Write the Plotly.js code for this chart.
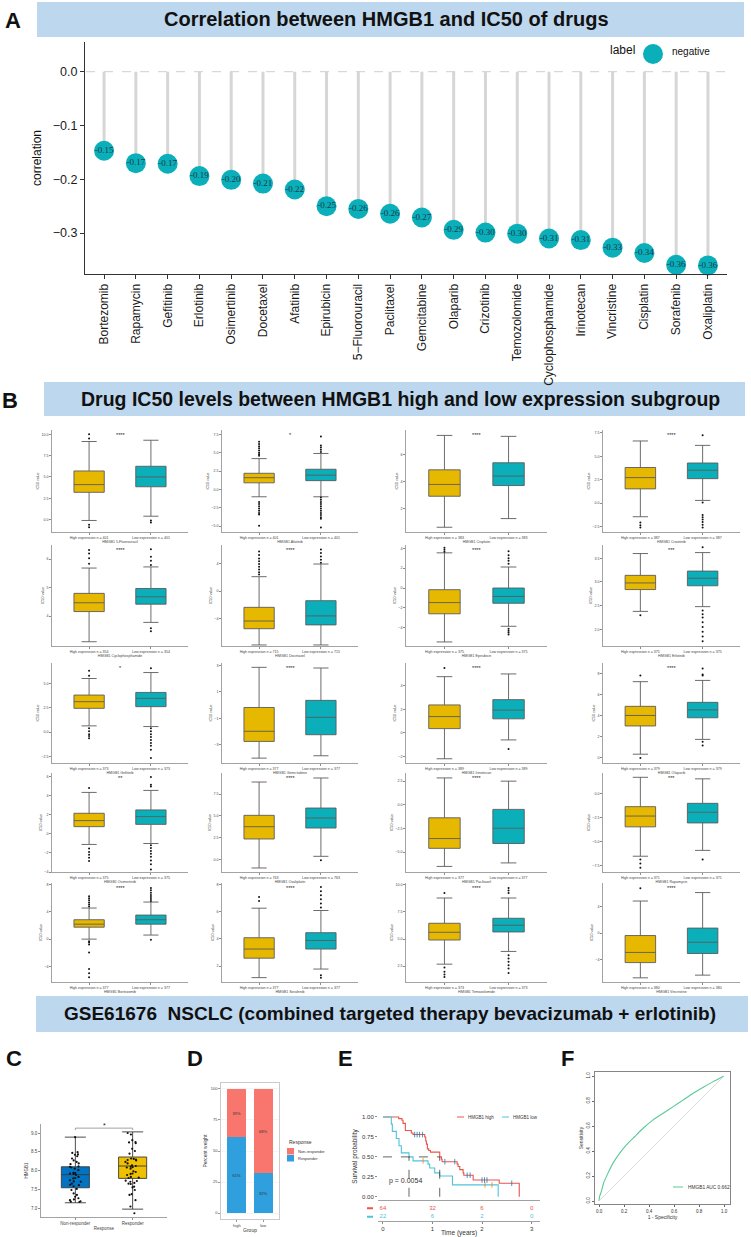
<!DOCTYPE html>
<html>
<head>
<meta charset="utf-8">
<script src="https://cdn.plot.ly/plotly-3.0.1.min.js"></script>
<style>html,body{margin:0;padding:0;background:#fff}#chart{width:751px;height:1237px}</style>
</head>
<body>
<div id="chart"></div>
<script>
// ================= DATA =================
// Panel A : correlation between HMGB1 and drug IC50
const drugs = ['Bortezomib','Rapamycin','Gefitinib','Erlotinib','Osimertinib','Docetaxel','Afatinib','Epirubicin','5\u2212Fluorouracil','Paclitaxel','Gemcitabine','Olaparib','Crizotinib','Temozolomide','Cyclophosphamide','Irinotecan','Vincristine','Cisplatin','Sorafenib','Oxaliplatin'];
const correlation = [-0.147,-0.170,-0.171,-0.194,-0.201,-0.208,-0.219,-0.250,-0.255,-0.264,-0.271,-0.294,-0.299,-0.301,-0.310,-0.313,-0.327,-0.337,-0.359,-0.360];
const corrLegendName = 'negative';

// Panel B : IC50 box plots (high vs low HMGB1)
const boxDrugs = ['5-Fluorouracil','Afatinib','Cisplatin','Crizotinib','Cyclophosphamide','Docetaxel','Epirubicin','Erlotinib','Gefitinib','Gemcitabine','Irinotecan','Olaparib','Osimertinib','Oxaliplatin','Paclitaxel','Rapamycin','Bortezomib','Sorafenib','Temozolomide','Vincristine'];
const sigLabels = ['****','*','****','****','****','****','****','***','*','****','****','****','**','****','****','***','****','****','****','****'];
const nHigh = [401,401,383,387,354,715,375,375,373,377,389,379,375,763,377,371,377,377,373,380];
const nLow  = [401,401,383,387,354,715,375,375,373,377,389,379,375,763,377,371,377,377,373,380];
const highLower  = [-0.1,-1.0,0.62,-1.45, 3.1,-7.8,-5.44,2.38, 0.65,-4.03,-2.2,0.34, -1.12,-0.94,-6.5,-6.55, 0.0,1.15,2.69,-6.77];
const highQ1     = [3.2,0.9,2.91,1.52, 4.16,-5.45,-2.6,2.84, 2.45,-2.76,0.36,3.03, 0.74,2.37,-4.59,-3.48, 1.76,2.58,4.91,-4.46];
const highMedian = [4.1,1.6,3.78,2.72, 4.47,-4.34,-1.47,2.98, 3.13,-1.99,1.38,4.03, 1.37,3.77,-3.56,-2.35, 2.2,3.25,5.62,-2.92];
const highQ3     = [5.7,2.2,4.86,3.8, 4.8,-2.36,-0.17,3.14, 3.81,-0.18,2.37,4.9, 2.14,5.07,-1.37,-1.37, 2.85,4.08,6.45,-0.36];
const highUpper  = [9.15,4.2,7.4,6.63, 5.69,2.07,3.55,3.6, 5.51,2.87,4.77,7.25, 4.32,8.87,2.84,1.7, 4.57,6.25,8.77,4.87];
const lowLower   = [0.4,-1.0,1.26,0.29, 3.78,-7.8,-3.86,2.48, 0.58,-3.85,-0.6,1.75, -1.02,0.39,-6.13,-5.94, 0.6,1.78,3.86,-6.36];
const lowQ1      = [3.85,1.2,3.7,2.61, 4.42,-4.9,-1.54,2.92, 2.62,-2.25,1.19,3.81, 0.98,3.62,-4.08,-3.07, 2.2,3.25,5.65,-3.08];
const lowMedian  = [5.0,1.95,4.4,3.51, 4.68,-3.6,-0.85,3.08, 3.47,-0.93,1.93,4.56, 1.79,4.76,-2.47,-1.95, 2.85,3.88,6.27,-1.38];
const lowQ3      = [6.25,2.75,5.38,4.28, 4.97,-1.4,0.0,3.23, 4.08,0.36,2.82,5.28, 2.49,5.9,-0.48,-1.02, 3.54,4.45,6.91,0.77];
const lowUpper   = [9.3,4.9,7.33,6.16, 5.73,3.9,2.12,3.62, 6.12,2.82,5.0,7.37, 4.53,9.33,2.5,1.54, 5.45,6.08,8.77,6.15];
const highOutliers = [
 [10.0,9.5,-0.6,-0.9],
 [6.5,6.2,5.9,5.6,5.3,5.0,4.8,4.6,-1.7,-2.0,-2.3,-2.6,-2.9,-3.2,-3.4,-4.95],
 [],
 [-2.06,-2.35,-2.6],
 [6.32,6.2,6.03,5.84],
 [5.7,5.2,4.7,4.3,3.9,3.5,3.1,2.7,2.4],
 [4.07,3.85,3.66],
 [2.3],
 [6.3,5.8,0.41,0.1,-0.2,-0.4,-0.61],
 [],
 [5.5],
 [7.84,-0.03],
 [4.77,-1.54,-1.9,-2.2,-2.5,-2.84],
 [],
 [],
 [-6.9,-7.3,-7.75],
 [6.3,6.0,5.7,5.4,5.1,4.8,-0.3,-0.5,-0.8,-1.95,-4.4,-5.0,-5.6],
 [7.08,6.78],
 [9.23,2.38,2.0,1.75,1.5],
 [6.82]
];
const lowOutliers = [
 [-0.1,-0.35],
 [7.2,6.0,5.7,5.4,5.1,-1.1,-1.4,-1.7,-2.0,-2.3,-2.6,-2.9,-3.2,-3.5,-3.8,-4.0,-5.2],
 [],
 [7.25,0.07,-1.27,-1.5,-1.75,-2.0,-2.3,-2.6],
 [6.35,6.09,5.95,5.8,3.57,3.47],
 [6.0,5.5,5.0,4.5,4.1],
 [3.7,3.3,3.0,2.75,2.46,-4.1,-4.3,-4.5,-4.7],
 [3.73,2.4,2.32,2.25,2.15,2.05,1.95,1.85,1.75],
 [6.56,0.41,0.1,-0.2,-0.5,-0.8,-1.1,-1.4,-1.8,-2.65],
 [],
 [-1.37],
 [8.5,7.94,7.84,1.53,1.16],
 [5.93,5.12,4.95,-1.2,-1.5,-1.8,-2.1,-2.4,-2.8,-3.2,-3.75],
 [-0.07],
 [],
 [-6.9],
 [7.5,7.2,6.8,6.5,6.2,5.9,5.6,-0.1],
 [7.8,7.5,7.2,6.9,6.6,6.3,1.33,1.15],
 [9.7,9.45,9.23,3.5,3.2,2.9,2.6,2.3,1.88],
 []
];
const yTicks = [[0,2.5,5,7.5,10],[-5,-2.5,0,2.5,5,7.5],[2,4,6],[-2.5,0,2.5,5,7.5],
 [4,5,6],[-4,0,4],[-4,-2,0,2,4],[2,2.5,3,3.5],
 [-2.5,0,2.5,5],[-3,-1,1,3],[-2,0,2,4],[0,2,4,6,8],
 [-4,-2,0,2,4,6],[0,2.5,5,7.5],[-5,-2.5,0,2.5],[-7.5,-5,-2.5,0],
 [-4,0,4,8],[2,4,6,8],[2.5,5,7.5,10],[-4,0,4]];
const yRanges = [[-1.45,10.5],[-5.8,8.1],[0.27,7.8],[-3.08,7.8],
 [2.95,6.5],[-7.95,6.65],[-5.85,4.34],[1.65,3.78],
 [-3.16,7.1],[-4.4,3.2],[-2.56,5.93],[-0.5,9.03],
 [-4.0,6.35],[-1.4,9.9],[-7.09,3.36],[-8.2,2.15],
 [-6.3,8.25],[0.83,8.1],[1.05,10.15],[-7.4,7.6]];

// Panel C : HMGB1 expression by response
const responseGroups = ['Non-responder','Responder'];
const nonResponderExpr = [8.89,8.43,8.23,8.27,8.38,8.49,8.47,8.42,8.32,8.17,8.10,8.11,8.05,8.01,8.08,7.92,7.93,7.88,7.91,7.94,7.83,7.79,7.80,7.74,7.70,7.65,7.71,7.61,7.62,7.58,7.51,7.48,7.39,7.35,7.30,7.26,7.23,7.21,7.17,7.18,7.16,8.19];
const responderExpr = [8.76,8.73,8.96,8.81,8.75,8.52,8.45,8.27,8.31,8.29,8.32,8.10,8.19,8.23,8.28,8.14,8.08,8.12,8.05,7.98,7.96,7.92,8.09,7.88,7.83,7.91,7.81,7.80,7.73,7.72,7.70,7.67,7.57,7.55,7.65,7.37,7.64,7.48,7.35,7.04,7.21,6.86,9.00,8.58];
const cBoxStats = { // [lower, q1, median, q3, upper]
  'Non-responder':[7.14,7.54,7.89,8.10,8.89],
  'Responder':[6.97,7.79,8.12,8.36,9.03]
};
const cSignif = '*';

// Panel D : response proportion by HMGB1 group
const dGroups = ['high','low'];
const pctResponder = [61,32];
const pctNonResponder = [39,68];

// Panel E : Kaplan-Meier
const kmHighT = [0,0.317,0.384,0.405,0.452,0.573,0.607,0.843,0.863,0.877,0.897,0.924,0.958,1.146,1.18,1.194,1.497,1.517,1.551,1.618,1.632,1.821,2.347,2.751];
const kmHighS = [1.0,0.98,0.96,0.92,0.83,0.80,0.78,0.75,0.70,0.66,0.60,0.58,0.56,0.50,0.47,0.44,0.41,0.38,0.34,0.30,0.27,0.21,0.17,0.0];
const kmLowT = [0,0.169,0.189,0.27,0.324,0.371,0.526,0.607,0.91,0.944,1.045,1.146,1.403,2.326];
const kmLowS = [1.0,0.91,0.82,0.73,0.64,0.55,0.50,0.45,0.41,0.36,0.30,0.26,0.15,0.0];
const censorHighT = [0.64,0.69,0.74,0.80,1.25,1.45,1.70,1.76,2.0,2.05,2.1,2.6];
const censorLowT = [0.81,2.06,2.2];
const riskTimes = [0,1,2,3];
const riskHigh = [64,32,6,0];
const riskLow = [22,6,2,0];
const pValue = '0.0054';
const kmNames = ['HMGB1 high','HMGB1 low'];

// Panel F : ROC
const rocFPR = [0,0.005,0.019,0.037,0.072,0.112,0.166,0.219,0.286,0.353,0.433,0.513,0.594,0.674,0.754,0.834,0.914,1];
const rocTPR = [0,0.037,0.077,0.144,0.223,0.303,0.383,0.449,0.516,0.582,0.649,0.702,0.755,0.809,0.862,0.910,0.955,1];
const aucValue = 0.662;

// ================= LAYOUT HELPERS =================
const W = 751, H = 1237;
const fx = p => p / W;
const fy = p => 1 - p / H;
const SANS = 'Liberation Sans, Arial, sans-serif';
const NARROW = 'Liberation Sans Narrow, Arial Narrow, Liberation Sans, sans-serif';
const SERIF = 'Liberation Serif, Times New Roman, serif';
const TEAL = '#0AAFB9', GOLD = '#E7B800';

const traces = [];
const shapes = [];
const annotations = [];
const layout = {
  width: W, height: H, margin: {l:0, r:0, t:0, b:0},
  paper_bgcolor: '#ffffff', plot_bgcolor: 'rgba(0,0,0,0)',
  showlegend: false, boxmode: 'overlay', boxgap: 0.3,
  barmode: 'stack', bargap: 0.28,
  font: {family: SANS, color: '#222'},
  shapes: shapes, annotations: annotations
};
function txt(x, y, text, size, opts) {
  annotations.push(Object.assign({xref:'paper', yref:'paper', x:fx(x), y:fy(y), text:text, showarrow:false,
    font:{family:SANS, size:size, color:'#111'}, xanchor:'center', yanchor:'middle'}, opts || {}));
}
function header(x0, x1, y0, y1, title, size, cx) {
  shapes.push({type:'rect', xref:'paper', yref:'paper', x0:fx(x0), x1:fx(x1), y0:fy(y1), y1:fy(y0),
    fillcolor:'#BDD7EE', line:{width:0}, layer:'below'});
  txt(cx, (y0 + y1) / 2, '<b>' + title + '</b>', size, {font:{family:NARROW, size:size, color:'#111'}});
}

// ================= HEADERS & PANEL LETTERS =================
header(37, 744, 2, 37, 'Correlation between HMGB1 and IC50 of drugs', 20, 387);
header(44, 745, 382, 416, 'Drug IC50 levels between HMGB1 high and low expression subgroup', 19.5, 400);
header(36, 748, 996, 1032, 'GSE61676  NSCLC (combined targeted therapy bevacizumab + erlotinib)', 19, 390);
txt(13, 20, '<b>A</b>', 22);
txt(10, 401, '<b>B</b>', 22);
txt(14, 1058, '<b>C</b>', 22);
txt(195, 1058, '<b>D</b>', 22);
txt(345, 1058, '<b>E</b>', 22);
txt(567, 1058, '<b>F</b>', 22);

// ================= PANEL A =================
const aTop = 42, aBot = 274, aZeroPx = 71.7, aPxPerUnit = 538;
layout.xaxis = {domain:[fx(85), fx(727)], anchor:'y', type:'category', range:[-0.6, 19.6],
  showline:true, linecolor:'#333', linewidth:1, ticks:'outside', ticklen:4, tickcolor:'#333',
  tickangle:-90, tickfont:{size:12, color:'#1a1a1a'}, showgrid:false, zeroline:false};
layout.yaxis = {domain:[fy(aBot), fy(aTop)], anchor:'x',
  range:[-(aBot - aZeroPx) / aPxPerUnit, (aZeroPx - aTop) / aPxPerUnit],
  tickvals:[0,-0.1,-0.2,-0.3], tickformat:'.1f',
  showline:true, linecolor:'#333', linewidth:1, ticks:'outside', ticklen:4, tickcolor:'#333',
  tickfont:{size:12.5, color:'#1a1a1a'}, showgrid:false, zeroline:false,
  title:{text:'correlation', font:{size:12, color:'#111'}, standoff:8}};
shapes.push({type:'line', xref:'paper', yref:'y', x0:fx(86), x1:fx(727), y0:0, y1:0,
  line:{color:'#cfcfcf', width:1, dash:'dash'}, layer:'below'});
const segX = [], segY = [];
drugs.forEach((d, i) => { segX.push(d, d, null); segY.push(0, correlation[i], null); });
traces.push({type:'scatter', mode:'lines', x:segX, y:segY, xaxis:'x', yaxis:'y',
  line:{color:'#D6D6D6', width:3}, hoverinfo:'skip'});
traces.push({type:'scatter', mode:'markers+text', x:drugs, y:correlation, xaxis:'x', yaxis:'y',
  name:corrLegendName, marker:{size:20, color:TEAL},
  text:correlation.map(v => v.toFixed(2)), textposition:'middle center',
  textfont:{family:SERIF, size:9, color:'#16394a'}, cliponaxis:false});
// legend of panel A
txt(637, 50, 'label', 12, {xanchor:'right'});
shapes.push({type:'circle', xref:'paper', yref:'paper', x0:fx(643), x1:fx(663), y0:fy(64), y1:fy(44),
  fillcolor:TEAL, line:{width:0}});
txt(670, 51, corrLegendName, 10, {xanchor:'left'});

// ================= PANEL B =================
const colPx = [[52,188],[222,358],[406,547],[603,740]];
const rowPx = [[430,532],[545,646],[663,763],[773,872],[883,982]];
const AX_GRAY = '#8c8c8c';
for (let i = 0; i < 20; i++) {
  const k = i + 2, r = Math.floor(i / 4), c = i % 4;
  const xa = 'x' + k, ya = 'y' + k;
  const catH = 'High expression n = ' + nHigh[i];
  const catL = 'Low expression n = ' + nLow[i];
  const hasDec = yTicks[i].some(v => Math.round(v) !== v);
  layout['xaxis' + k] = {domain:[fx(colPx[c][0]), fx(colPx[c][1])], anchor:ya, type:'category',
    range:[-0.6, 1.6], showline:true, linecolor:AX_GRAY, linewidth:0.8, ticks:'outside', ticklen:2,
    tickcolor:AX_GRAY, tickfont:{size:3.6, color:'#444'}, showgrid:false, zeroline:false,
    title:{text:'HMGB1 ' + boxDrugs[i], font:{size:3.6, color:'#444'}, standoff:1}};
  layout['yaxis' + k] = {domain:[fy(rowPx[r][1]), fy(rowPx[r][0])], anchor:xa, range:yRanges[i],
    tickvals:yTicks[i], tickformat: hasDec ? '.1f' : 'd', showline:true, linecolor:AX_GRAY, linewidth:0.8,
    ticks:'outside', ticklen:2, tickcolor:AX_GRAY, tickfont:{size:3.6, color:'#444'},
    showgrid:false, zeroline:false,
    title:{text:'IC50 value', font:{size:3.6, color:'#444'}, standoff:2}};
  traces.push({type:'box', xaxis:xa, yaxis:ya, x:[catH], q1:[highQ1[i]], median:[highMedian[i]], q3:[highQ3[i]],
    lowerfence:[highLower[i]], upperfence:[highUpper[i]], fillcolor:GOLD,
    line:{color:'#5b5b5b', width:0.9}, whiskerwidth:0.5, boxpoints:false, hoverinfo:'skip'});
  traces.push({type:'box', xaxis:xa, yaxis:ya, x:[catL], q1:[lowQ1[i]], median:[lowMedian[i]], q3:[lowQ3[i]],
    lowerfence:[lowLower[i]], upperfence:[lowUpper[i]], fillcolor:TEAL,
    line:{color:'#5b5b5b', width:0.9}, whiskerwidth:0.5, boxpoints:false, hoverinfo:'skip'});
  traces.push({type:'scatter', mode:'markers', xaxis:xa, yaxis:ya,
    x:highOutliers[i].map(() => catH).concat(lowOutliers[i].map(() => catL)),
    y:highOutliers[i].concat(lowOutliers[i]),
    marker:{size:2, color:'#111'}, hoverinfo:'skip', cliponaxis:false});
  annotations.push({xref:xa, yref:'paper', x:0.5, y:fy(rowPx[r][0] + 5), text:sigLabels[i],
    showarrow:false, font:{size:5.5, color:'#222'}, yanchor:'middle'});
}

// ================= PANEL C =================
layout.xaxis22 = {domain:[fx(41), fx(167)], anchor:'y22', type:'category', range:[-0.6, 1.6],
  showline:true, linecolor:AX_GRAY, linewidth:0.8, ticks:'outside', ticklen:2, tickcolor:AX_GRAY,
  tickfont:{size:4.5, color:'#444'}, showgrid:false, zeroline:false,
  title:{text:'Response', font:{size:4.5, color:'#444'}, standoff:1}};
layout.yaxis22 = {domain:[fy(1217), fy(1124)], anchor:'x22', range:[6.76, 9.24],
  tickvals:[7,7.5,8,8.5,9], tickformat:'.1f', showline:true, linecolor:AX_GRAY, linewidth:0.8,
  ticks:'outside', ticklen:2, tickcolor:AX_GRAY, tickfont:{size:4.5, color:'#444'},
  showgrid:false, zeroline:false, title:{text:'HMGB1', font:{size:4.5, color:'#444'}, standoff:2}};
const cColors = {'Non-responder':'#0073C2', 'Responder':'#EFC000'};
responseGroups.forEach(g => {
  const s = cBoxStats[g];
  traces.push({type:'box', xaxis:'x22', yaxis:'y22', x:[g], lowerfence:[s[0]], q1:[s[1]], median:[s[2]],
    q3:[s[3]], upperfence:[s[4]], fillcolor:cColors[g], line:{color:'#3a3a3a', width:0.9},
    whiskerwidth:0.75, boxpoints:false, hoverinfo:'skip'});
});
[[responseGroups[0], nonResponderExpr], [responseGroups[1], responderExpr]].forEach(([g, vals]) => {
  traces.push({type:'box', xaxis:'x22', yaxis:'y22', x:vals.map(() => g), y:vals, boxpoints:'all',
    jitter:0.55, pointpos:0, marker:{size:2.2, color:'#111'}, line:{width:0, color:'rgba(0,0,0,0)'},
    fillcolor:'rgba(0,0,0,0)', whiskerwidth:0, hoverinfo:'skip'});
});
shapes.push({type:'path', xref:'x22', yref:'y22',
  path:'M 0,9.08 L 0,9.13 L 1,9.13 L 1,9.08', line:{color:'#8a8a8a', width:0.8}});
annotations.push({xref:'x22', yref:'y22', x:0.5, y:9.19, text:cSignif, showarrow:false,
  font:{size:7, color:'#222'}});

// ================= PANEL D =================
layout.xaxis23 = {domain:[fx(221), fx(279)], anchor:'y23', type:'category', range:[-0.6, 1.6],
  showline:true, mirror:true, linecolor:'#bdbdbd', linewidth:0.8, ticks:'outside', ticklen:2,
  tickcolor:'#999', tickfont:{size:4, color:'#444'}, showgrid:false, zeroline:false,
  title:{text:'Group', font:{size:5, color:'#333'}, standoff:1}};
layout.yaxis23 = {domain:[fy(1219), fy(1083)], anchor:'x23', range:[-4.8, 104.8],
  tickvals:[0,25,50,75,100], showline:true, mirror:true, linecolor:'#bdbdbd', linewidth:0.8,
  ticks:'outside', ticklen:2, tickcolor:'#999', tickfont:{size:4, color:'#444'},
  showgrid:true, gridcolor:'#efefef', gridwidth:0.6, zeroline:false,
  title:{text:'Percent weight', font:{size:5, color:'#333'}, standoff:2}};
const dResp = '#2F9FDD', dNon = '#F8766D';
traces.push({type:'bar', xaxis:'x23', yaxis:'y23', x:dGroups, y:pctResponder, name:'Responder',
  marker:{color:dResp}, text:pctResponder.map(v => v + '%'), textposition:'inside',
  insidetextanchor:'middle', textfont:{size:4, color:'#333'}, hoverinfo:'skip'});
traces.push({type:'bar', xaxis:'x23', yaxis:'y23', x:dGroups, y:pctNonResponder, name:'Non-responder',
  marker:{color:dNon}, text:pctNonResponder.map(v => v + '%'), textposition:'inside',
  insidetextanchor:'middle', textfont:{size:4, color:'#333'}, hoverinfo:'skip'});
txt(287, 1142, 'Response', 5, {xanchor:'left', font:{family:SANS, size:5, color:'#333'}});
shapes.push({type:'rect', xref:'paper', yref:'paper', x0:fx(287), x1:fx(294), y0:fy(1154.5), y1:fy(1148), fillcolor:dNon, line:{width:0}});
shapes.push({type:'rect', xref:'paper', yref:'paper', x0:fx(287), x1:fx(294), y0:fy(1161.5), y1:fy(1155), fillcolor:dResp, line:{width:0}});
txt(296, 1151, 'Non-responder', 4, {xanchor:'left', font:{family:SANS, size:4, color:'#333'}});
txt(296, 1158, 'Responder', 4, {xanchor:'left', font:{family:SANS, size:4, color:'#333'}});

// ================= PANEL E =================
const kmRed = '#E8554A', kmCyan = '#4FC3DB';
layout.xaxis24 = {domain:[fx(378), fx(540)], anchor:'y24', range:[-0.1, 3.17],
  showline:true, linecolor:'#8a8a8a', linewidth:0.8, showticklabels:false, ticks:'',
  showgrid:false, zeroline:false};
layout.yaxis24 = {domain:[fy(1200), fy(1113)], anchor:'x24', range:[-0.04, 1.05],
  tickvals:[0,0.25,0.5,0.75,1], tickformat:'.2f', showline:false, ticks:'outside', ticklen:2,
  tickcolor:'#888', tickfont:{size:6, color:'#333'}, showgrid:false, zeroline:false,
  title:{text:'Survival probability', font:{size:6.5, color:'#333'}, standoff:3}};
traces.push({type:'scatter', mode:'lines', x:kmHighT, y:kmHighS, xaxis:'x24', yaxis:'y24',
  line:{shape:'hv', color:kmRed, width:1.1}, hoverinfo:'skip'});
traces.push({type:'scatter', mode:'lines', x:kmLowT, y:kmLowS, xaxis:'x24', yaxis:'y24',
  line:{shape:'hv', color:kmCyan, width:1.1}, hoverinfo:'skip'});
function survAt(T, S, t) { let s = S[0]; for (let i = 0; i < T.length; i++) if (T[i] <= t) s = S[i]; return s; }
traces.push({type:'scatter', mode:'markers', x:censorHighT, y:censorHighT.map(t => survAt(kmHighT, kmHighS, t)),
  xaxis:'x24', yaxis:'y24', marker:{symbol:'line-ns-open', size:4, line:{color:kmRed, width:0.8}}, hoverinfo:'skip'});
traces.push({type:'scatter', mode:'markers', x:censorLowT, y:censorLowT.map(t => survAt(kmLowT, kmLowS, t)),
  xaxis:'x24', yaxis:'y24', marker:{symbol:'line-ns-open', size:4, line:{color:kmCyan, width:0.8}}, hoverinfo:'skip'});
function medianOf(T, S) { for (let i = 0; i < T.length; i++) if (S[i] <= 0.5) return T[i]; return null; }
const medH = medianOf(kmHighT, kmHighS), medL = medianOf(kmLowT, kmLowS);
shapes.push({type:'line', xref:'x24', yref:'y24', x0:0, x1:Math.max(medH, medL), y0:0.5, y1:0.5, line:{color:'#222', width:0.7, dash:'dash'}});
[medH, medL].forEach(m => shapes.push({type:'line', xref:'x24', yref:'y24', x0:m, x1:m, y0:0, y1:0.5, line:{color:'#222', width:0.7, dash:'dash'}}));
annotations.push({xref:'x24', yref:'y24', x:0.08, y:0.2, text:'p = ' + pValue, showarrow:false,
  xanchor:'left', font:{size:7, color:'#333'}});
// E legend
shapes.push({type:'line', xref:'paper', yref:'paper', x0:fx(457), x1:fx(464), y0:fy(1117), y1:fy(1117), line:{color:kmRed, width:1}});
shapes.push({type:'line', xref:'paper', yref:'paper', x0:fx(502), x1:fx(509), y0:fy(1117), y1:fy(1117), line:{color:kmCyan, width:1}});
txt(466, 1117, kmNames[0], 4.5, {xanchor:'left', font:{family:SANS, size:4.5, color:'#333'}});
txt(511, 1117, kmNames[1], 4.5, {xanchor:'left', font:{family:SANS, size:4.5, color:'#333'}});
// risk table
layout.xaxis25 = {domain:[fx(378), fx(540)], anchor:'y25', range:[-0.1, 3.17],
  tickvals:riskTimes, showline:true, linecolor:'#8a8a8a', linewidth:0.8, ticks:'outside', ticklen:2,
  tickcolor:'#888', tickfont:{size:6, color:'#333'}, showgrid:false, zeroline:false,
  title:{text:'Time (years)', font:{size:6.5, color:'#333'}, standoff:2}};
layout.yaxis25 = {domain:[fy(1221), fy(1204)], anchor:'x25', range:[-0.5, 1.5], visible:false};
traces.push({type:'scatter', mode:'text', x:riskTimes, y:riskTimes.map(() => 1), text:riskHigh.map(String),
  xaxis:'x25', yaxis:'y25', textfont:{size:6, color:kmRed}, hoverinfo:'skip', cliponaxis:false});
traces.push({type:'scatter', mode:'text', x:riskTimes, y:riskTimes.map(() => 0), text:riskLow.map(String),
  xaxis:'x25', yaxis:'y25', textfont:{size:6, color:kmCyan}, hoverinfo:'skip', cliponaxis:false});
shapes.push({type:'line', xref:'paper', yref:'y25', x0:fx(367), x1:fx(373), y0:1, y1:1, line:{color:kmRed, width:2}});
shapes.push({type:'line', xref:'paper', yref:'y25', x0:fx(367), x1:fx(373), y0:0, y1:0, line:{color:kmCyan, width:2}});

// ================= PANEL F =================
const rocGreen = '#58CB98';
layout.xaxis26 = {domain:[fx(595), fx(730)], anchor:'y26', range:[-0.032, 1.048],
  tickvals:[0,0.2,0.4,0.6,0.8,1], tickformat:'.1f', showline:true, mirror:true, linecolor:'#666',
  linewidth:0.8, ticks:'outside', ticklen:2.5, tickcolor:'#666', tickfont:{size:4.5, color:'#333'},
  showgrid:false, zeroline:false, title:{text:'1 - Specificity', font:{size:5, color:'#333'}, standoff:2}};
layout.yaxis26 = {domain:[fy(1204), fy(1072)], anchor:'x26', range:[-0.024, 1.032],
  tickvals:[0,0.2,0.4,0.6,0.8,1], tickformat:'.1f', tickangle:-90, showline:true, mirror:true,
  linecolor:'#666', linewidth:0.8, ticks:'outside', ticklen:2.5, tickcolor:'#666',
  tickfont:{size:4.5, color:'#333'}, showgrid:false, zeroline:false,
  title:{text:'Sensitivity', font:{size:5, color:'#333'}, standoff:2}};
shapes.push({type:'line', xref:'x26', yref:'y26', x0:0, y0:0, x1:1, y1:1, line:{color:'#d0d0d0', width:0.8}});
traces.push({type:'scatter', mode:'lines', x:rocFPR, y:rocTPR, xaxis:'x26', yaxis:'y26',
  line:{color:rocGreen, width:1.1, shape:'spline', smoothing:0.6}, hoverinfo:'skip'});
shapes.push({type:'line', xref:'paper', yref:'paper', x0:fx(673), x1:fx(683), y0:fy(1187), y1:fy(1187), line:{color:rocGreen, width:1}});
txt(686, 1187, 'HMGB1 AUC ' + aucValue.toFixed(3), 4.8, {xanchor:'left', font:{family:SANS, size:4.8, color:'#333'}});

Plotly.newPlot('chart', traces, layout, {staticPlot:true, displayModeBar:false});
</script>
</body>
</html>
